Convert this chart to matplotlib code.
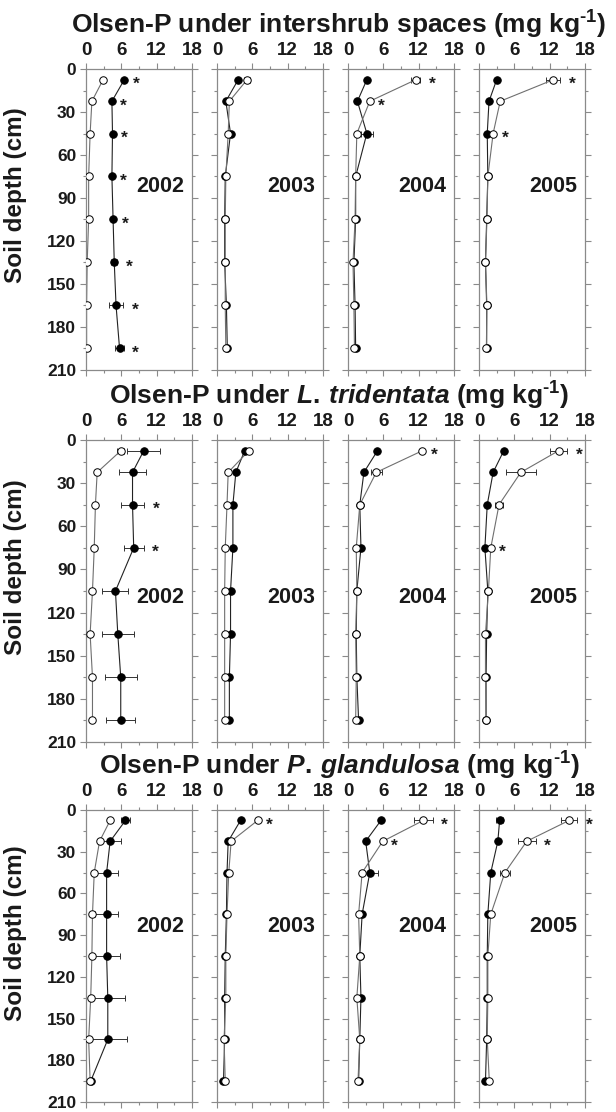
import numpy as np
import matplotlib.pyplot as plt

plt.rcParams['font.family'] = ['Liberation Sans', 'DejaVu Sans']
plt.rcParams['font.weight'] = 'bold'
plt.rcParams['axes.labelweight'] = 'bold'
plt.rcParams['mathtext.fontset'] = 'custom'
plt.rcParams['mathtext.rm'] = 'Liberation Sans:bold'
plt.rcParams['mathtext.bf'] = 'Liberation Sans:bold'
plt.rcParams['mathtext.it'] = 'Liberation Sans:italic:bold'

# depth of sampling layer midpoints (cm)
depth = [7.5, 22.5, 45, 75, 105, 135, 165, 195]
years = ['2002', '2003', '2004', '2005']

titles = [
    r'Olsen-P under intershrub spaces (mg kg$^{\text{-}1}$)',
    r'Olsen-P under $\mathit{L.\,tridentata}$ (mg kg$^{\text{-}1}$)',
    r'Olsen-P under $\mathit{P.\,glandulosa}$ (mg kg$^{\text{-}1}$)',
]

# intershrub spaces, one list per year
inter_closed = [
    [6.5, 4.4, 4.5, 4.4, 4.6, 4.8, 5.1, 5.7],
    [3.6, 1.5, 2.3, 1.4, 1.3, 1.3, 1.6, 1.75],
    [3.2, 1.6, 3.2, 1.3, 1.3, 1.0, 1.2, 1.3],
    [3.0, 1.7, 1.4, 1.5, 1.3, 1.1, 1.3, 1.3],
]
inter_closed_err = [
    [0, 0, 0, 0, 0, 0.5, 1.2, 0.7],
    [0, 0, 0, 0, 0, 0, 0, 0],
    [0, 0, 1.0, 0, 0, 0, 0, 0],
    [0, 0, 0, 0, 0, 0, 0, 0],
]
inter_open = [
    [2.9, 1.0, 0.7, 0.45, 0.45, 0.2, 0.1, 0.1],
    [5.1, 2.1, 1.9, 1.5, 1.4, 1.4, 1.4, 1.5],
    [11.5, 3.7, 1.5, 1.3, 1.2, 0.85, 1.0, 1.1],
    [12.6, 3.6, 2.4, 1.5, 1.35, 1.1, 1.35, 1.25],
]
inter_open_err = [
    [0, 0, 0, 0, 0, 0, 0, 0],
    [0.5, 0, 0, 0, 0, 0, 0, 0],
    [0.8, 0, 0, 0, 0, 0, 0, 0],
    [1.2, 0, 0, 0, 0, 0, 0, 0],
]
inter_stars = [[0, 1, 2, 3, 4, 5, 6, 7], [], [0, 1], [0, 2]]

# L. tridentata
tri_closed = [
    [9.8, 7.9, 7.9, 8.1, 5.0, 5.4, 5.9, 5.9],
    [4.7, 3.2, 2.7, 2.7, 2.3, 2.3, 2.1, 2.1],
    [5.0, 2.7, 2.0, 2.2, 1.5, 1.4, 1.5, 1.8],
    [4.2, 2.4, 1.4, 1.0, 1.5, 1.3, 1.2, 1.2],
]
tri_closed_err = [
    [2.8, 2.3, 2.0, 1.7, 2.2, 2.7, 2.7, 2.5],
    [0, 0, 0, 0, 0, 0, 0, 0],
    [0, 0, 0, 0, 0, 0, 0, 0],
    [0, 0, 0, 0, 0, 0, 0, 0],
]
tri_open = [
    [5.9, 1.9, 1.6, 1.4, 1.1, 0.7, 1.1, 1.1],
    [5.4, 1.9, 1.7, 1.4, 1.3, 1.3, 1.3, 1.3],
    [12.6, 4.8, 2.0, 1.4, 1.5, 1.3, 1.4, 1.3],
    [13.5, 7.1, 3.4, 2.0, 1.6, 1.1, 1.1, 1.2],
]
tri_open_err = [
    [0.6, 0, 0, 0, 0, 0, 0, 0],
    [0, 0, 0, 0, 0, 0, 0, 0],
    [0, 0.9, 0, 0, 0, 0, 0, 0],
    [1.5, 2.6, 0.7, 0, 0, 0, 0, 0],
]
tri_stars = [[2, 3], [], [0], [0, 3]]

# P. glandulosa
glan_closed = [
    [6.7, 4.1, 3.5, 3.5, 3.5, 3.7, 3.7, 0.8],
    [4.0, 1.9, 1.7, 1.6, 1.4, 1.3, 1.3, 1.1],
    [5.6, 3.0, 3.7, 2.4, 2.0, 2.2, 2.0, 1.8],
    [3.5, 3.2, 2.0, 1.5, 1.4, 1.4, 1.3, 1.1],
]
glan_closed_err = [
    [0.8, 1.9, 2.0, 2.0, 2.3, 3.0, 3.2, 0],
    [0, 0, 0, 0, 0, 0, 0, 0],
    [0, 0, 1.4, 0, 0, 0, 0, 0],
    [0.6, 0, 0, 0, 0, 0, 0, 0],
]
glan_open = [
    [4.1, 2.3, 1.4, 1.1, 1.0, 0.8, 0.45, 0.7],
    [6.9, 2.4, 2.0, 1.7, 1.5, 1.5, 1.2, 1.4],
    [12.8, 5.9, 2.4, 1.8, 2.0, 1.5, 2.0, 1.7],
    [15.3, 8.1, 4.4, 2.0, 1.5, 1.5, 1.4, 1.75],
]
glan_open_err = [
    [0, 0, 0, 0, 0, 0, 0, 0],
    [0, 0, 0, 0, 0, 0, 0, 0],
    [1.6, 0, 0, 0, 0, 0, 0, 0],
    [1.4, 1.5, 0.9, 0, 0, 0, 0, 0],
]
glan_stars = [[], [0], [0, 1], [0, 1]]

sites = [
    (inter_closed, inter_closed_err, inter_open, inter_open_err, inter_stars),
    (tri_closed, tri_closed_err, tri_open, tri_open_err, tri_stars),
    (glan_closed, glan_closed_err, glan_open, glan_open_err, glan_stars),
]

W, H = 616, 1112
fig = plt.figure(figsize=(W / 100, H / 100), dpi=100)

# layout in pixels
col_left = [86, 217, 348, 479]
col_w = 106
row_top = [69, 440, 810]
row_h = [301, 302, 292]
year_y = [0.61, 0.48, 0.60]

spine_col = '#8a8a8a'
text_col = '#1a1a1a'
d = np.array(depth)

for r, (closed, closed_err, opened, opened_err, stars) in enumerate(sites):
    for c in range(4):
        ax = fig.add_axes([col_left[c] / W, 1 - (row_top[r] + row_h[r]) / H,
                           col_w / W, row_h[r] / H])
        xc = np.array(closed[c])
        ec = np.array(closed_err[c])
        xo = np.array(opened[c])
        eo = np.array(opened_err[c])

        ax.plot(xc, d, '-', color='#222222', lw=0.8, zorder=2)
        ax.plot(xo, d, '-', color='#6f6f6f', lw=0.8, zorder=2)

        m = ec > 0
        if m.any():
            ax.errorbar(xc[m], d[m], xerr=ec[m], fmt='none', ecolor='#333333',
                        elinewidth=0.7, capsize=2.3, capthick=0.7, zorder=1.5)
        m = eo > 0
        if m.any():
            ax.errorbar(xo[m], d[m], xerr=eo[m], fmt='none', ecolor='#333333',
                        elinewidth=0.7, capsize=2.3, capthick=0.7, zorder=1.5)

        ax.plot(xc, d, 'o', ms=5.4, mfc='black', mec='black', mew=0.7, zorder=3)
        ax.plot(xo, d, 'o', ms=5.4, mfc='white', mec='black', mew=0.7, zorder=4)

        for i in stars[c]:
            right = max(xc[i] + ec[i], xo[i] + eo[i])
            ax.annotate('*', (right, d[i]), xytext=(8.5, -3.5),
                        textcoords='offset points', ha='center', va='center',
                        fontsize=12.5, color=text_col)

        ax.text(0.93, year_y[r], years[c], transform=ax.transAxes,
                ha='right', va='center', fontsize=15.5, fontweight='bold',
                color=text_col)

        ax.set_xlim(0, 18)
        ax.set_ylim(210, 0)
        ax.set_xticks([0, 6, 12, 18])
        ax.set_xticks([3, 9, 15], minor=True)
        ax.set_yticks(np.arange(0, 211, 30))
        ax.set_yticks(np.arange(15, 210, 30), minor=True)
        ax.xaxis.tick_top()
        ax.tick_params(axis='x', which='both', top=True, bottom=True,
                       labeltop=True, labelbottom=False, labelsize=13.5)
        ax.tick_params(axis='y', which='both', left=True, right=True,
                       labelleft=(c == 0), labelright=False, labelsize=12.5)
        ax.tick_params(which='both', direction='out', color=spine_col,
                       width=0.8, labelcolor=text_col)
        ax.tick_params(which='major', length=4.5, pad=2.5)
        ax.tick_params(which='minor', length=2.5)
        for lbl in ax.get_xticklabels() + ax.get_yticklabels():
            lbl.set_fontweight('bold')
        for sp in ax.spines.values():
            sp.set_color(spine_col)
            sp.set_linewidth(0.9)

        if c == 0:
            ax.set_ylabel('Soil depth (cm)', fontsize=17.5, fontweight='bold',
                          color=text_col)
            ax.yaxis.set_label_coords(-0.56, 0.58)

    fig.text((col_left[0] + col_left[3] + col_w) / 2 / W + 0.006,
             1 - (row_top[r] - 44) / H, titles[r],
             ha='center', va='center', fontsize=19, fontweight='bold',
             color=text_col)

fig.savefig('out.png', dpi=100)
